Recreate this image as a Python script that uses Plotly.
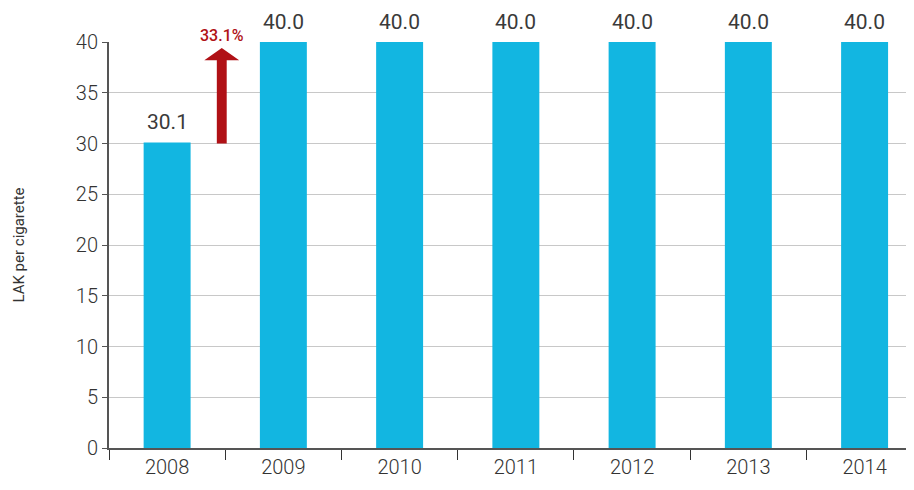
import plotly.graph_objects as go

years = ['2008', '2009', '2010', '2011', '2012', '2013', '2014']
tax = [30.1, 40.0, 40.0, 40.0, 40.0, 40.0, 40.0]
change_label = '33.1%'

bar_color = '#12B6E1'
arrow_color = '#B01116'
tick_font = dict(family='Roboto', weight=300, size=20, color='#333333')

fig = go.Figure()
fig.add_trace(go.Bar(
    x=years, y=tax,
    marker=dict(color=bar_color, line=dict(width=0)),
    showlegend=False,
))

# value labels above the bars (x given as category index)
for i, v in enumerate(tax):
    fig.add_annotation(x=i, y=v, text=f'{v:.1f}', showarrow=False,
                       yanchor='bottom', yshift=6,
                       font=dict(size=21, color='#3a3a3a', family='Roboto', weight=400))

# red arrow between 2008 and 2009, from the 2008 level up to the top
xc = 0.47
sw, hw = 0.085, 0.15
y0 = tax[0] - 0.1
yh = 38.2
yt = 39.4
path = (f'M {xc - sw/2},{y0} L {xc + sw/2},{y0} L {xc + sw/2},{yh} '
        f'L {xc + hw},{yh} L {xc},{yt} L {xc - hw},{yh} L {xc - sw/2},{yh} Z')
fig.add_shape(type='path', path=path, xref='x', yref='y',
              fillcolor=arrow_color, line=dict(width=0), layer='above')
fig.add_annotation(x=xc, y=yt, text=change_label, showarrow=False,
                   yanchor='bottom', yshift=1,
                   font=dict(size=16, color=arrow_color, family='Roboto', weight=500))

# the page body adds 8px around the figure
fig.update_layout(
    width=906, height=474,
    margin=dict(l=101, r=0, t=34, b=34),
    plot_bgcolor='white', paper_bgcolor='white',
    bargap=0.596,
    font=dict(family='Roboto', color='#333333'),
    xaxis=dict(
        type='category', tickson='boundaries', automargin=False,
        range=[-0.5, 6.425],
        ticks='outside', ticklen=10, tickcolor='#333333',
        showline=True, linecolor='#555555', linewidth=2,
        tickfont=tick_font,
        showgrid=False,
    ),
    yaxis=dict(
        range=[0, 40], dtick=5, automargin=False,
        ticks='outside', ticklen=5, tickcolor='#555555',
        showline=True, linecolor='#555555', linewidth=2,
        gridcolor='#C8C8C8', gridwidth=1,
        tickfont=tick_font,
        title=dict(text='LAK per cigarette',
                   font=dict(size=15, color='#333333', family='Roboto', weight=400),
                   standoff=48),
        zeroline=False,
    ),
)

fig.write_html('out.html')
